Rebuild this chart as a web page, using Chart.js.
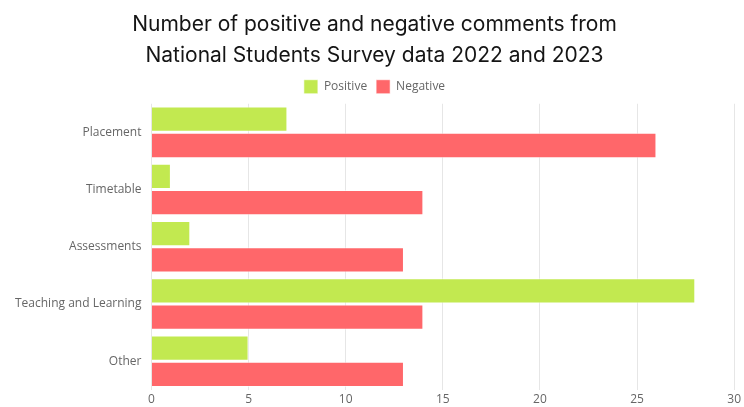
<!DOCTYPE html>
<html>
<head>
<meta charset="utf-8">
<script src="https://cdn.jsdelivr.net/npm/chart.js@4.4.0/dist/chart.umd.min.js"></script>
<style>
  html, body { margin: 0; padding: 0; background: #fff; overflow: hidden; }
  #wrap { width: 744px; height: 407px; position: relative; }
</style>
</head>
<body>
<div id="wrap"><canvas id="grafic"></canvas></div>
<script>
// categorii si valori
const categorii = ['Placement', 'Timetable', 'Assessments', 'Teaching and Learning', 'Other'];
const pozitive = [7, 1, 2, 28, 5];
const negative = [26, 14, 13, 14, 13];
const xTicks = [0, 5, 10, 15, 20, 25, 30];

document.addEventListener("DOMContentLoaded", function() {
    const ctx = document.getElementById('grafic').getContext('2d');

    new Chart(ctx, {
        type: 'bar',
        data: {
            labels: categorii,
            datasets: [{
                label: 'Positive',
                data: pozitive,
                backgroundColor: 'rgb(194, 233, 80)',
                borderColor: 'rgba(255,255,255,0.6)',
                borderWidth: 1
            }, {
                label: 'Negative',
                data: negative,
                backgroundColor: 'rgb(255, 103, 106)',
                borderColor: 'rgba(255,255,255,0.6)',
                borderWidth: 1
            }]
        },
        options: {
            indexAxis: 'y',
            responsive: true,
            maintainAspectRatio: false,
            animation: false,
            layout: { padding: { left: 5, right: 0, top: 0, bottom: -7 } },
            datasets: { bar: { categoryPercentage: 0.92, barPercentage: 0.96 } },
            plugins: {
                title: {
                    display: true,
                    text: ['Number of positive and negative comments from', 'National Students Survey data 2022 and 2023'],
                    font: { family: 'Inter', size: 21, weight: 'normal', lineHeight: 1.47 },
                    color: '#151515',
                    padding: { top: 9, bottom: 0 }
                },
                legend: {
                    position: 'top',
                    labels: {
                        boxWidth: 14,
                        boxHeight: 14,
                        font: { family: 'Open Sans', size: 12 },
                        color: '#666',
                        padding: 9
                    }
                },
                tooltip: { enabled: false }
            },
            scales: {
                x: {
                    min: 0,
                    max: 30,
                    afterBuildTicks: function(axis) {
                        axis.ticks = xTicks.map(v => ({ value: v }));
                    },
                    grid: { color: '#e6e6e6', drawTicks: false },
                    border: { display: false },
                    ticks: { font: { family: 'Open Sans', size: 12 }, color: '#666', padding: 3 }
                },
                y: {
                    grid: { display: false, drawTicks: false },
                    border: { display: false },
                    ticks: { font: { family: 'Open Sans', size: 12 }, color: '#666', padding: 10 }
                }
            }
        }
    });
});
</script>
</body>
</html>
